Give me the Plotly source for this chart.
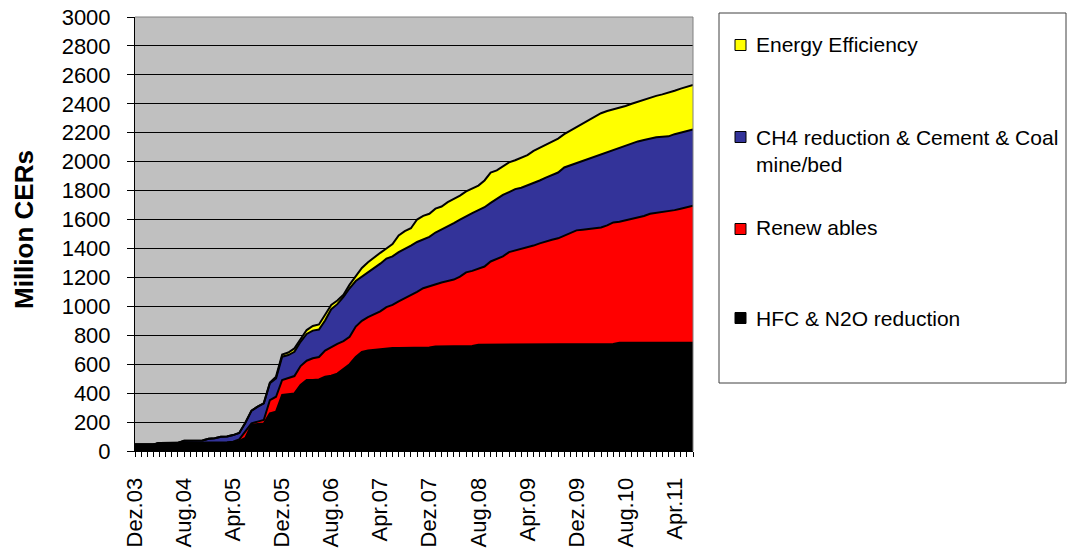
import plotly.graph_objects as go

# ---------------- data ----------------
MONTH_ABBR = ["Jan", "Feb", "Mrz", "Apr", "Mai", "Jun", "Jul", "Aug", "Sep", "Okt", "Nov", "Dez"]
START_YEAR, START_MONTH, N_MONTHS = 2003, 11, 92   # Dez.03 .. Jul.11

tick_labels = ["Dez.03", "Aug.04", "Apr.05", "Dez.05", "Aug.06", "Apr.07",
               "Dez.07", "Aug.08", "Apr.09", "Dez.09", "Aug.10", "Apr.11"]

hfc_n2o = [45, 45, 45, 45, 55, 55, 55, 55, 55, 55, 55, 55, 58, 58, 60, 60,
           62, 70, 90, 180, 187, 190, 260, 272, 387, 394, 398, 456, 491, 491, 495, 514,
           520, 535, 565, 600, 650, 685, 695, 700, 705, 705, 712, 712, 712, 712, 715, 715,
           715, 722, 722, 722, 722, 726, 726, 726, 735, 735, 735, 735, 735, 735, 735, 735,
           735, 735, 735, 735, 735, 735, 735, 735, 735, 735, 735, 735, 735, 735, 740, 748,
           748, 748, 748, 748, 748, 748, 748, 748, 748, 748, 748, 748]

renewables = [0, 0, 0, 0, 0, 0, 0, 0, 0, 0, 0, 0, 0, 0, 0, 0,
              2, 10, 45, 11, 16, 24, 92, 103, 104, 108, 120, 131, 133, 150, 155, 180,
              200, 205, 195, 190, 210, 215, 230, 245, 260, 290, 298, 323, 343, 368, 385, 410,
              425, 428, 443, 453, 463, 479, 509, 519, 525, 540, 575, 595, 610, 640, 650, 660,
              670, 685, 700, 715, 725, 735, 755, 770, 790, 795, 800, 805, 810, 825, 840, 837,
              847, 852, 867, 877, 892, 897, 907, 912, 917, 927, 937, 947]

ch4_cement_coal = [0, 0, 0, 0, 0, 0, 0, 0, 15, 15, 17, 17, 27, 30, 38, 40,
                   46, 45, 60, 88, 103, 115, 116, 127, 161, 161, 168, 168, 185, 191, 190, 208,
                   260, 275, 305, 335, 315, 305, 305, 320, 330, 335, 335, 340, 340, 340, 345, 335,
                   340, 360, 365, 380, 390, 395, 390, 400, 405, 410, 405, 415, 425, 415, 425, 425,
                   430, 430, 435, 440, 450, 455, 470, 470, 470, 480, 490, 500, 510, 510, 505, 515,
                   520, 525, 525, 525, 520, 523, 517, 515, 525, 525, 525, 527]

energy_eff = [0, 0, 0, 0, 0, 0, 0, 0, 0, 0, 0, 0, 0, 0, 0, 0,
              0, 0, 0, 0, 0, 0, 5, 12, 15, 18, 23, 22, 27, 32, 35, 40,
              30, 25, 15, 25, 35, 60, 75, 75, 75, 70, 85, 115, 125, 120, 155, 165,
              160, 165, 160, 165, 165, 165, 170, 170, 170, 185, 210, 195, 195, 205, 200, 205,
              210, 225, 225, 230, 230, 235, 230, 240, 245, 255, 265, 275, 280, 280, 275, 270,
              270, 275, 275, 280, 285, 287, 293, 300, 300, 305, 305, 308]

series_names = ["HFC & N2O reduction", "Renew ables",
                "CH4 reduction & Cement & Coal<br>mine/bed", "Energy Efficiency"]
series_colors = ["#000000", "#FF0000", "#333399", "#FFFF00"]

# ---------------- categories ----------------
categories = []
yr, mo = START_YEAR, START_MONTH
for _ in range(N_MONTHS):
    categories.append(f"{MONTH_ABBR[mo]}.{yr % 100:02d}")
    mo += 1
    if mo == 12:
        mo = 0
        yr += 1
ticktext = [c if c in tick_labels else "" for c in categories]

FONT = "Liberation Sans, Arial, sans-serif"

fig = go.Figure()
for name, vals, col in zip(series_names,
                           [hfc_n2o, renewables, ch4_cement_coal, energy_eff],
                           series_colors):
    fig.add_trace(go.Scatter(
        x=categories, y=vals, name=name.replace("<br>", " "),
        stackgroup="one", mode="lines",
        line=dict(color="black", width=2),
        fillcolor=col, showlegend=False,
    ))

# ---------------- layout ----------------
W, H = 1069, 550
L, R, T, B = 135, 376, 17, 99
PW, PH = W - L - R, H - T - B


def px(xp):
    return (xp - L) / PW


def py(yp):
    return (H - B - yp) / PH


shapes = [
    # plot-area border (top and right)
    dict(type="line", xref="paper", yref="paper", x0=0, x1=1, y0=1, y1=1,
         line=dict(color="#808080", width=1), layer="above"),
    dict(type="line", xref="paper", yref="paper", x0=1, x1=1, y0=0, y1=1,
         line=dict(color="#808080", width=1), layer="above"),
    # legend box
    dict(type="rect", xref="paper", yref="paper", x0=px(719), x1=px(1066),
         y0=py(383), y1=py(13), line=dict(color="#404040", width=1),
         fillcolor="white", layer="above"),
]
annotations = []
legend_rows = [(3, 45, 44), (2, 137, 151), (1, 229, 228), (0, 318, 318)]
for idx, ysq, ytxt in legend_rows:
    shapes.append(dict(type="rect", xref="paper", yref="paper",
                       x0=px(735), x1=px(746), y0=py(ysq + 5.5), y1=py(ysq - 5.5),
                       line=dict(color="black", width=1),
                       fillcolor=series_colors[idx], layer="above"))
    annotations.append(dict(xref="paper", yref="paper", x=px(754), y=py(ytxt),
                            xanchor="left", yanchor="middle", align="left",
                            text=series_names[idx], showarrow=False,
                            font=dict(family=FONT, size=21, color="black")))

annotations.append(dict(xref="paper", yref="paper", x=px(24), y=py(230),
                        xanchor="center", yanchor="middle", textangle=-90,
                        text="<b>Million CERs</b>", showarrow=False,
                        font=dict(family=FONT, size=26, color="black")))

fig.update_layout(
    width=W, height=H,
    margin=dict(l=L, r=R, t=T, b=B, pad=0, autoexpand=False),
    paper_bgcolor="white", plot_bgcolor="#C0C0C0",
    font=dict(family=FONT, color="black"),
    shapes=shapes, annotations=annotations,
    showlegend=False,
    xaxis=dict(type="category", range=[0, N_MONTHS - 1], automargin=False,
               tickmode="array", tickvals=categories, ticktext=ticktext,
               tickangle=-90, ticks="outside", ticklen=5, tickcolor="black",
               tickwidth=1, showline=True, linecolor="black", linewidth=1,
               showgrid=False, tickfont=dict(family=FONT, size=22, color="black"),
               ticklabelstandoff=12),
    yaxis=dict(range=[0, 3000], tick0=0, dtick=200, automargin=False,
               ticks="outside", ticklen=7, tickcolor="black", tickwidth=1,
               showline=True, linecolor="black", linewidth=1,
               showgrid=True, gridcolor="black", gridwidth=1, zeroline=False,
               tickfont=dict(family=FONT, size=22, color="black"),
               ticklabelstandoff=12),
)

fig.write_html("out.html",
               config={"displayModeBar": False},
               post_script="document.body.style.margin='0px';document.body.style.overflow='hidden';")
